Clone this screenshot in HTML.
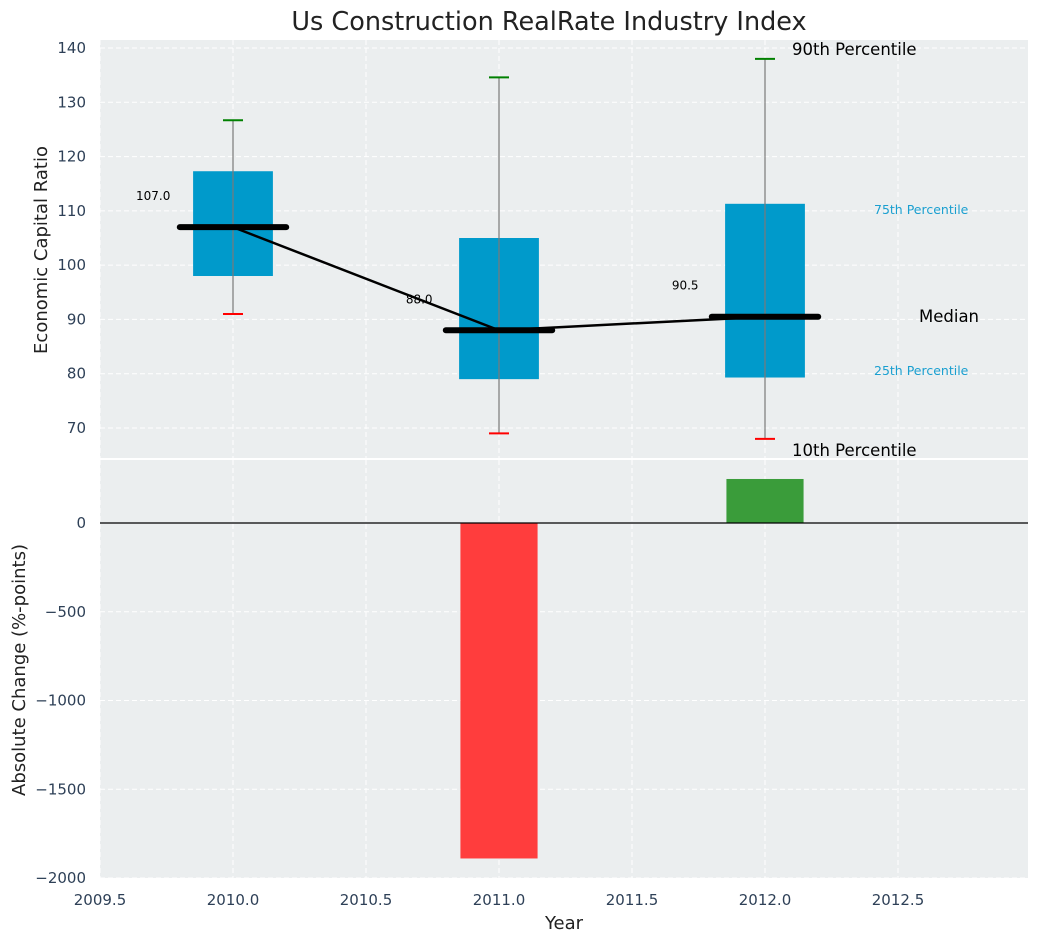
<!DOCTYPE html>
<html><head><meta charset="utf-8">
<style>
body{margin:0;background:#fff;font-family:"Liberation Sans","DejaVu Sans",sans-serif;}
svg text{font-family:"DejaVu Sans","Liberation Sans",sans-serif;}
</style></head>
<body>
<svg id="chart" width="1039" height="942" xmlns="http://www.w3.org/2000/svg"></svg>
<script>
const years=[2010,2011,2012];
const p10=[91,69,68];
const q1=[98,79,79.3];
const medians=[107,88,90.5];
const q3=[117.3,105,111.3];
const p90=[126.7,134.6,138];
const changes=[0,-1890,248];
const xTicks=[2009.5,2010,2010.5,2011,2011.5,2012,2012.5];
const yTopTicks=[70,80,90,100,110,120,130,140];
const yBotTicks=[-2000,-1500,-1000,-500,0];

const NS="http://www.w3.org/2000/svg";
const svg=document.getElementById('chart');
function el(tag,attrs,parent){const e=document.createElementNS(NS,tag);for(const k in attrs)e.setAttribute(k,attrs[k]);(parent||svg).appendChild(e);return e;}
const L=100,R=1028,T1=40,B1=458,T2=460,B2=878;
const X=v=>L+(v-2009.5)*266;
const Y1=v=>48+(140-v)*5.4286;
const Y2=v=>523-v*0.1775;

let bg1=el('rect',{x:L,y:T1,width:R-L,height:B1-T1,fill:'#ebeeef'});


let bg2=el('rect',{x:L,y:T2,width:R-L,height:B2-T2,fill:'#ebeeef'});



xTicks.forEach(t=>{
  const x=X(t);
  let g=el('line',{x1:x,x2:x,y1:T1,y2:B1,stroke:'#fff','stroke-dasharray':'5,3','stroke-width':1});
  
  
  let g2=el('line',{x1:x,x2:x,y1:T2,y2:B2,stroke:'#fff','stroke-dasharray':'5,3','stroke-width':1});
  
  
  let tx=el('text',{x:x,y:905,'text-anchor':'middle','font-size':15,fill:'#2e4057'});
  tx.textContent=t.toFixed(1);
  
  
});
yTopTicks.forEach(t=>{
  const y=Y1(t);
  let g=el('line',{x1:L,x2:R,y1:y,y2:y,stroke:'#fff','stroke-dasharray':'5,3','stroke-width':1});
  
  
  let tx=el('text',{x:86,y:y+5,'text-anchor':'end','font-size':15,fill:'#2e4057'});
  tx.textContent=t;
  
  
});
yBotTicks.forEach(t=>{
  const y=Y2(t);
  let g=el('line',{x1:L,x2:R,y1:y,y2:y,stroke:'#fff','stroke-dasharray':'5,3','stroke-width':1});
  
  
  let tx=el('text',{x:86,y:y+5,'text-anchor':'end','font-size':15,fill:'#2e4057'});
  tx.textContent=(t<0?'\u2212'+(-t):t);
  
  
});

years.forEach((yr,i)=>{
  const cx=X(yr),w=0.15*266;
  let b=el('rect',{x:cx-w,y:Y1(q3[i]),width:2*w,height:Y1(q1[i])-Y1(q3[i]),fill:'#009acb'});
  
  
  let wh=el('line',{x1:cx,x2:cx,y1:Y1(p90[i]),y2:Y1(p10[i]),stroke:'#7a7a7a','stroke-width':1.2});
  
  
  let c1=el('line',{x1:cx-10,x2:cx+10,y1:Y1(p90[i]),y2:Y1(p90[i]),stroke:'#008000','stroke-width':2});
  
  
  let c2=el('line',{x1:cx-10,x2:cx+10,y1:Y1(p10[i]),y2:Y1(p10[i]),stroke:'#ff0000','stroke-width':2});
  
  
});
let pts=years.map((yr,i)=>X(yr)+','+Y1(medians[i])).join(' ');
let ml=el('polyline',{points:pts,fill:'none',stroke:'#000','stroke-width':2.5});


years.forEach((yr,i)=>{
  const cx=X(yr),y=Y1(medians[i]);
  let m=el('line',{x1:cx-0.2*266,x2:cx+0.2*266,y1:y,y2:y,stroke:'#000','stroke-width':6,'stroke-linecap':'round'});
  
  
  let t=el('text',{x:cx-0.3*266,y:y-27,'text-anchor':'middle','font-size':12,fill:'#000'});
  t.textContent=medians[i].toFixed(1);
  
  
});

years.forEach((yr,i)=>{
  if(changes[i]===0)return;
  const cx=X(yr),w=0.145*266;
  const y0=Y2(0),y1=Y2(changes[i]);
  let r=el('rect',{x:cx-w,y:Math.min(y0,y1),width:2*w,height:Math.abs(y1-y0),fill:changes[i]<0?'#ff3d3d':'#3a9c3a'});
  
  
});
let zl=el('line',{x1:L,x2:R,y1:Y2(0),y2:Y2(0),stroke:'#000','stroke-width':1.2});



function txt(x,y,s,size,fill,name,anchor){
  let t=el('text',{x:x,y:y,'font-size':size,fill:fill,'text-anchor':anchor||'start'});
  t.textContent=s;
  
  
  return t;
}
txt(792,55,'90th Percentile',16.5,'#000','p90-annotation');
txt(874,214,'75th Percentile',12.5,'#1a9fd0','p75-annotation');
txt(919,322,'Median',16.5,'#000','median-annotation');
txt(874,375,'25th Percentile',12.5,'#1a9fd0','p25-annotation');
txt(792,456,'10th Percentile',16.5,'#000','p10-annotation');
txt(549,30,'Us Construction RealRate Industry Index',25.5,'#222','chart-title','middle');
txt(564,929,'Year',18,'#222','x-axis-title','middle');
let yt1=txt(0,0,'Economic Capital Ratio',18,'#222','y-axis-title-top','middle');
yt1.setAttribute('transform','translate(47,250) rotate(-90)');
let yt2=txt(0,0,'Absolute Change (%-points)',18,'#222','y-axis-title-bottom','middle');
yt2.setAttribute('transform','translate(25,670) rotate(-90)');
</script>
</body></html>
